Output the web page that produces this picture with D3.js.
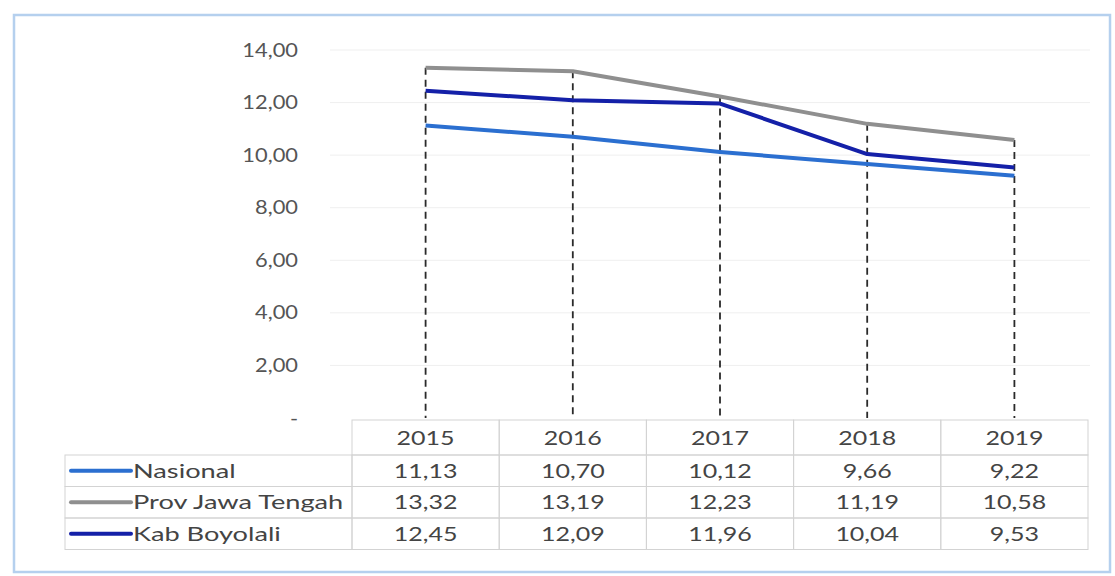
<!DOCTYPE html>
<html>
<head>
<meta charset="utf-8">
<script src="https://cdn.jsdelivr.net/npm/d3@7"></script>
<style>
  html, body { margin: 0; padding: 0; background: #fff; }
  svg { display: block; }
  text { font-family: Lato, "Open Sans", sans-serif; }
</style>
</head>
<body>
<svg id="chart" width="1115" height="576"></svg>
<script>
// Years shown on the category axis and in the table header
const years = ["2015", "2016", "2017", "2018", "2019"];

// Series values (percent)
const nasional = [11.13, 10.70, 10.12, 9.66, 9.22];
const provJawaTengah = [13.32, 13.19, 12.23, 11.19, 10.58];
const kabBoyolali = [12.45, 12.09, 11.96, 10.04, 9.53];

const seriesNames = ["Nasional", "Prov Jawa Tengah", "Kab Boyolali"];
const seriesColors = ["#2b6fd0", "#8f8f8f", "#1420a8"];
const seriesValues = [nasional, provJawaTengah, kabBoyolali];

// Y axis ticks
const yTicks = [0, 2, 4, 6, 8, 10, 12, 14];

const fmt = v => v === 0 ? "-" : d3.format(".2f")(v).replace(".", ",");

// wide text face: regular glyphs stretched horizontally
const FONT_SIZE = 20;

const svg = d3.select("#chart");

function label(parent, tx, ty, str, anchor, stretch) {
  return parent.append("text")
    .attr("transform", `translate(${tx},${ty}) scale(${stretch || 1.25},1)`)
    .attr("text-anchor", anchor || "start")
    .attr("font-size", FONT_SIZE)
    .attr("fill", "#444")
    .text(str);
}

// outer frame
svg.append("rect")
  .attr("x", 14).attr("y", 15).attr("width", 1096).attr("height", 557)
  .attr("fill", "#fff").attr("stroke", "#b5d0ee").attr("stroke-width", 2.5);

const x = d3.scaleBand().domain(years).range([352, 1088]);
const y = d3.scaleLinear().domain([0, 14]).range([418, 50]);
const cx = yr => x(yr) + x.bandwidth() / 2;

// gridlines
svg.append("g")
  .selectAll("line")
  .data(yTicks.filter(t => t > 0))
  .join("line")
  .attr("x1", 330).attr("x2", 1090)
  .attr("y1", d => y(d)).attr("y2", d => y(d))
  .attr("stroke", "#efefef").attr("stroke-width", 1);

// y axis labels
const yAxis = d3.axisLeft(y).tickValues(yTicks).tickFormat(fmt).tickSize(0).tickPadding(0);
const gy = svg.append("g").attr("transform", "translate(298,0)").call(yAxis);
gy.select(".domain").remove();
gy.selectAll("text")
  .attr("font-size", 19).attr("fill", "#555")
  .attr("font-family", "Lato, 'Open Sans', sans-serif")
  .attr("transform", "scale(1.15,1)");

// drop lines from the highest point of each year down to the axis
const maxes = years.map((yr, i) => d3.max(seriesValues, s => s[i]));
svg.append("g")
  .selectAll("line")
  .data(years)
  .join("line")
  .attr("x1", d => cx(d)).attr("x2", d => cx(d))
  .attr("y1", (d, i) => y(maxes[i])).attr("y2", y(0))
  .attr("stroke", "#2a2a2a").attr("stroke-width", 1.8)
  .attr("stroke-dasharray", "7,5");

// series lines
const line = d3.line().x((d, i) => cx(years[i])).y(d => y(d));
svg.append("g")
  .selectAll("path")
  .data(seriesValues)
  .join("path")
  .attr("d", d => line(d))
  .attr("fill", "none")
  .attr("stroke", (d, i) => seriesColors[i])
  .attr("stroke-width", 4)
  .attr("stroke-linejoin", "round");

// data table
const tableTop = 420, headH = 35, rowH = 31.5;
const legendLeft = 65;
const gridColor = "#d3d3d3";
const tbl = svg.append("g");

// header cells
tbl.selectAll("rect.head")
  .data(years)
  .join("rect")
  .attr("class", "head")
  .attr("x", d => x(d)).attr("y", tableTop)
  .attr("width", x.bandwidth()).attr("height", headH)
  .attr("fill", "none").attr("stroke", gridColor);
years.forEach(yr => label(tbl, cx(yr), tableTop + headH / 2 + 7, yr, "middle"));

// rows
seriesNames.forEach((name, r) => {
  const ry = tableTop + headH + r * rowH;
  tbl.append("rect")
    .attr("x", legendLeft).attr("y", ry)
    .attr("width", x.range()[0] - legendLeft).attr("height", rowH)
    .attr("fill", "none").attr("stroke", gridColor);
  tbl.append("line")
    .attr("x1", legendLeft + 6).attr("x2", legendLeft + 66)
    .attr("y1", ry + rowH / 2).attr("y2", ry + rowH / 2)
    .attr("stroke", seriesColors[r]).attr("stroke-width", 4)
    .attr("stroke-linecap", "round");
  label(tbl, legendLeft + 68, ry + rowH / 2 + 7, name, "start", 1.36);
  years.forEach((yr, i) => {
    tbl.append("rect")
      .attr("x", x(yr)).attr("y", ry)
      .attr("width", x.bandwidth()).attr("height", rowH)
      .attr("fill", "none").attr("stroke", gridColor);
    label(tbl, cx(yr), ry + rowH / 2 + 7, fmt(seriesValues[r][i]), "middle");
  });
});
</script>
</body>
</html>
